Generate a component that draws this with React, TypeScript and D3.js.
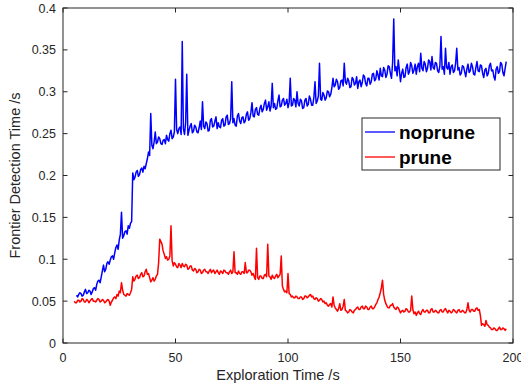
import * as d3 from 'd3';

// Frontier detection time, sampled every half second of exploration (values in ms)
const sampleStep = 0.5;

const nopruneStart = 6;
const noprune = [
  57, 55, 58, 60, 59, 56, 57, 61, 64, 59, 60, 63, 62, 58, 61, 65, 66, 63, 70, 74,
  75, 72, 79, 86, 93, 85, 88, 95, 97, 94, 99, 103, 104, 100, 108, 114, 117, 112, 123, 130,
  156, 125, 128, 133, 134, 130, 140, 137, 143, 145, 203, 195, 198, 204, 206, 199, 201, 207, 209, 204,
  211, 208, 214, 220, 228, 224, 274, 236, 232, 240, 252, 238, 240, 246, 244, 238, 237, 242, 243, 238,
  248, 243, 241, 250, 254, 244, 246, 252, 315, 255, 250, 256, 258, 249, 360, 256, 249, 263, 321, 248,
  254, 259, 262, 251, 253, 260, 258, 252, 251, 257, 265, 255, 288, 259, 256, 264, 262, 253, 254, 266,
  268, 258, 259, 265, 270, 256, 263, 258, 257, 266, 268, 259, 260, 270, 272, 261, 262, 268, 312, 263,
  268, 260, 259, 271, 274, 265, 262, 269, 270, 263, 265, 273, 276, 266, 268, 275, 287, 271, 270, 279,
  281, 273, 272, 280, 284, 276, 279, 286, 290, 278, 282, 288, 277, 283, 310, 281, 286, 279, 280, 289,
  296, 282, 283, 290, 292, 284, 286, 291, 281, 287, 316, 283, 284, 292, 290, 282, 300, 286, 283, 291,
  289, 280, 281, 290, 292, 283, 285, 295, 291, 284, 284, 293, 312, 286, 289, 295, 334, 291, 290, 299,
  296, 290, 293, 301, 300, 294, 297, 305, 316, 306, 308, 315, 312, 303, 305, 313, 314, 307, 334, 312,
  309, 316, 313, 305, 306, 317, 315, 308, 310, 318, 304, 312, 314, 306, 311, 320, 318, 310, 307, 316,
  316, 309, 312, 321, 322, 313, 315, 325, 320, 314, 328, 319, 318, 329, 326, 317, 321, 331, 330, 322,
  316, 335, 387, 325, 330, 319, 338, 326, 312, 322, 327, 317, 318, 329, 333, 321, 324, 335, 331, 322,
  326, 333, 321, 330, 334, 324, 346, 328, 325, 336, 333, 324, 328, 338, 336, 326, 342, 329, 327, 335,
  334, 325, 323, 331, 366, 327, 330, 321, 352, 329, 327, 335, 321, 330, 332, 323, 325, 334, 352, 326,
  329, 320, 322, 331, 330, 324, 318, 327, 333, 323, 325, 334, 330, 321, 320, 329, 336, 325, 324, 332,
  331, 322, 317, 326, 328, 319, 322, 331, 334, 325, 326, 318, 314, 327, 330, 322, 324, 335, 333, 323,
  319, 328, 336,
];

const pruneStart = 5;
const prune = [
  50, 48, 48, 51, 51, 49, 50, 53, 52, 49, 49, 52, 51, 48, 50, 52, 53, 50, 50, 49,
  51, 53, 52, 49, 50, 52, 51, 48, 49, 51, 52, 50, 45, 49, 51, 54, 55, 53, 58, 56,
  62, 60, 72, 63, 58, 57, 56, 59, 58, 57, 60, 64, 79, 74, 76, 80, 81, 77, 78, 82,
  84, 79, 80, 85, 88, 82, 83, 78, 73, 75, 78, 74, 76, 80, 82, 96, 124, 121, 118, 110,
  106, 101, 103, 99, 100, 104, 140, 98, 92, 96, 94, 91, 90, 95, 93, 90, 95, 92, 91, 94,
  93, 88, 89, 92, 92, 87, 86, 89, 88, 84, 85, 88, 87, 83, 84, 87, 88, 85, 85, 83,
  86, 88, 84, 86, 87, 83, 85, 87, 84, 82, 86, 85, 83, 87, 86, 84, 84, 82, 85, 87,
  83, 85, 109, 84, 84, 82, 86, 83, 82, 85, 85, 83, 96, 84, 84, 87, 87, 85, 81, 83,
  79, 76, 113, 78, 76, 80, 80, 77, 77, 81, 82, 79, 118, 80, 79, 76, 81, 78, 77, 80,
  82, 78, 80, 82, 104, 68, 64, 61, 62, 60, 83, 59, 58, 55, 56, 54, 54, 56, 55, 53,
  53, 55, 55, 52, 53, 56, 56, 54, 55, 57, 58, 55, 56, 53, 52, 54, 53, 50, 51, 53,
  52, 49, 50, 47, 48, 45, 44, 46, 47, 43, 55, 45, 42, 40, 38, 41, 47, 39, 40, 44,
  52, 39, 38, 36, 37, 40, 39, 37, 36, 39, 40, 42, 43, 40, 40, 43, 44, 41, 41, 44,
  43, 40, 40, 43, 44, 41, 41, 43, 46, 48, 52, 55, 60, 66, 75, 58, 51, 47, 44, 42,
  42, 45, 45, 47, 43, 41, 40, 43, 42, 39, 36, 38, 39, 37, 38, 41, 40, 37, 37, 39,
  56, 40, 35, 37, 33, 36, 38, 35, 34, 38, 40, 37, 37, 39, 39, 36, 36, 40, 41, 37,
  37, 39, 38, 36, 36, 39, 40, 37, 37, 40, 41, 38, 36, 39, 38, 36, 37, 40, 39, 37,
  36, 39, 40, 37, 37, 39, 38, 36, 36, 40, 48, 39, 37, 40, 40, 38, 38, 41, 42, 39,
  40, 33, 21, 23, 22, 20, 27, 22, 21, 19, 18, 16, 16, 18, 17, 15, 15, 17, 19, 16,
  16, 18, 17, 15, 17,
];

const xTicks = [0, 50, 100, 150, 200];
const yTicks = [0, 0.05, 0.1, 0.15, 0.2, 0.25, 0.3, 0.35, 0.4];
const seriesNames = ['noprune', 'prune'];
const seriesColors = ['#0000ff', '#ff0000'];

const W = 521;
const H = 385;
const margin = { top: 8, right: 8, bottom: 42, left: 63 };
const font = '"Liberation Sans", Arial, Helvetica, sans-serif';
const axisColor = '#262626';

function toPoints(start: number, values: number[]) {
  return values.map((v, i) => ({ t: start + i * sampleStep, v: v / 1000 }));
}

export default function App() {
  const innerW = W - margin.left - margin.right;
  const innerH = H - margin.top - margin.bottom;

  const x = d3.scaleLinear().domain([0, 200]).range([margin.left, margin.left + innerW]);
  const y = d3.scaleLinear().domain([0, 0.4]).range([margin.top + innerH, margin.top]);

  const line = d3.line<{ t: number; v: number }>()
    .x(d => x(d.t))
    .y(d => y(d.v));

  const series = [toPoints(nopruneStart, noprune), toPoints(pruneStart, prune)];

  const x0 = margin.left;
  const x1 = margin.left + innerW;
  const y0 = margin.top + innerH;
  const y1 = margin.top;
  const tickLen = 4.5;

  // legend box
  const lg = { x: 362, y: 118, w: 138, h: 52 };

  return (
    <svg width={W} height={H} style={{ position: 'absolute', left: 0, top: 0, background: '#fff' }}>
      <rect x={0} y={0} width={W} height={H} fill="#fff" />
      <g>
        {series.map((s, i) => (
          <path key={i} d={line(s) || ''} fill="none" stroke={seriesColors[i]} strokeWidth={1.5} strokeLinejoin="round" />
        ))}
      </g>

      {/* axes box */}
      <rect x={x0} y={y1} width={innerW} height={innerH} fill="none" stroke={axisColor} strokeWidth={1} />

      {xTicks.map(t => (
        <g key={'x' + t}>
          <line x1={x(t)} x2={x(t)} y1={y0} y2={y0 - tickLen} stroke={axisColor} />
          <line x1={x(t)} x2={x(t)} y1={y1} y2={y1 + tickLen} stroke={axisColor} />
          <text x={x(t)} y={y0 + 19} textAnchor="middle" fontFamily={font} fontSize={12.5} fill={axisColor}>
            {t}
          </text>
        </g>
      ))}
      {yTicks.map(t => (
        <g key={'y' + t}>
          <line x1={x0} x2={x0 + tickLen} y1={y(t)} y2={y(t)} stroke={axisColor} />
          <line x1={x1} x2={x1 - tickLen} y1={y(t)} y2={y(t)} stroke={axisColor} />
          <text x={x0 - 7} y={y(t) + 4.5} textAnchor="end" fontFamily={font} fontSize={12.5} fill={axisColor}>
            {String(+t.toFixed(2))}
          </text>
        </g>
      ))}

      <text x={278} y={380} textAnchor="middle" fontFamily={font} fontSize={14.5} fill={axisColor}>
        Exploration Time /s
      </text>
      <text transform={`translate(20,${(y0 + y1) / 2}) rotate(-90)`} textAnchor="middle" fontFamily={font} fontSize={14.5} fill={axisColor}>
        Frontier Detection Time /s
      </text>

      {/* legend */}
      <rect x={lg.x} y={lg.y} width={lg.w} height={lg.h} fill="#fff" stroke={axisColor} strokeWidth={1} />
      {seriesNames.map((name, i) => (
        <g key={name}>
          <line x1={lg.x + 3} x2={lg.x + 33} y1={lg.y + 14 + i * 25} y2={lg.y + 14 + i * 25} stroke={seriesColors[i]} strokeWidth={1.3} />
          <text x={lg.x + 37} y={lg.y + 20.5 + i * 25} fontFamily={font} fontSize={19} fontWeight="bold" fill="#000">
            {name}
          </text>
        </g>
      ))}
    </svg>
  );
}
